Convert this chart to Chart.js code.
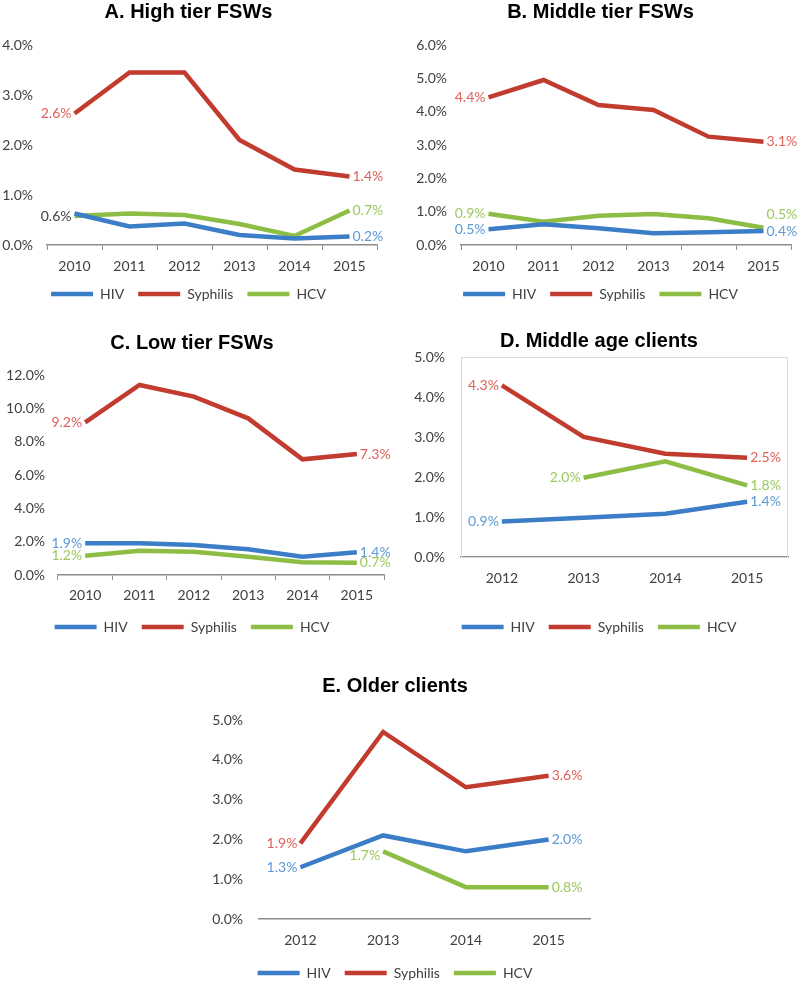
<!DOCTYPE html>
<html>
<head>
<meta charset="utf-8">
<script src="https://cdn.jsdelivr.net/npm/chart.js@4.4.1/dist/chart.umd.min.js"></script>
<style>
  html, body { margin: 0; padding: 0; background: #fff; overflow: hidden; }
  .panel { position: absolute; }
</style>
</head>
<body>
<div class="panel" style="left:0px;top:0px;width:394px;height:311px"><canvas id="chartA"></canvas></div>
<div class="panel" style="left:410px;top:0px;width:390px;height:311px"><canvas id="chartB"></canvas></div>
<div class="panel" style="left:0px;top:331px;width:394px;height:313px"><canvas id="chartC"></canvas></div>
<div class="panel" style="left:410px;top:329px;width:390px;height:315px"><canvas id="chartD"></canvas></div>
<div class="panel" style="left:200px;top:674px;width:412px;height:316px"><canvas id="chartE"></canvas></div>
<script>
// years
const yearsABC = ['2010', '2011', '2012', '2013', '2014', '2015'];
const yearsDE = ['2012', '2013', '2014', '2015'];

// A. High tier FSWs (%)
const hivA = [0.63, 0.37, 0.43, 0.2, 0.13, 0.17];
const syphA = [2.63, 3.45, 3.45, 2.1, 1.51, 1.37];
const hcvA = [0.58, 0.63, 0.6, 0.42, 0.18, 0.69];
const ticksA = [0, 1, 2, 3, 4];

// B. Middle tier FSWs
const hivB = [0.47, 0.62, 0.5, 0.35, 0.38, 0.42];
const syphB = [4.43, 4.95, 4.2, 4.05, 3.25, 3.1];
const hcvB = [0.94, 0.7, 0.88, 0.93, 0.8, 0.52];
const ticksB = [0, 1, 2, 3, 4, 5, 6];

// C. Low tier FSWs
const hivC = [1.9, 1.9, 1.8, 1.54, 1.1, 1.36];
const syphC = [9.16, 11.4, 10.7, 9.4, 6.94, 7.26];
const hcvC = [1.16, 1.46, 1.4, 1.1, 0.76, 0.74];
const ticksC = [0, 2, 4, 6, 8, 10, 12];

// D. Middle age clients
const hivD = [0.89, 0.98, 1.08, 1.38];
const syphD = [4.29, 3.0, 2.58, 2.48];
const hcvD = [null, 1.98, 2.39, 1.79];
const ticksD = [0, 1, 2, 3, 4, 5];

// E. Older clients
const hivE = [1.3, 2.1, 1.7, 2.0];
const syphE = [1.9, 4.7, 3.31, 3.6];
const hcvE = [null, 1.7, 0.8, 0.8];
const ticksE = [0, 1, 2, 3, 4, 5];

const BLUE = '#3b7dc6', RED = '#c23b2f', GREEN = '#8dbd45';
const BLUE_T = '#5e9ad6', RED_T = '#e0605a', GREEN_T = '#9cc95c';
const TXT = '#404040';

Chart.defaults.font.family = 'Lato';
Chart.defaults.color = TXT;

// write the value next to first and last point of each line
const endLabels = {
  id: 'endLabels',
  afterDatasetsDraw(chart) {
    const ctx = chart.ctx;
    ctx.save();
    ctx.font = '14px Lato';
    ctx.textBaseline = 'middle';
    chart.data.datasets.forEach((ds, i) => {
      const meta = chart.getDatasetMeta(i);
      let first = -1, last = -1;
      ds.data.forEach((v, j) => {
        if (v === null) return;
        if (first < 0) first = j;
        last = j;
      });
      if (ds.showFirst !== false) {
        const p = meta.data[first];
        ctx.fillStyle = ds.firstColor || ds.labelColor;
        ctx.textAlign = 'right';
        ctx.fillText(ds.data[first].toFixed(1) + '%', p.x - 3, p.y + (ds.firstDy || 0));
      }
      const q = meta.data[last];
      ctx.fillStyle = ds.labelColor;
      ctx.textAlign = 'left';
      ctx.fillText(ds.data[last].toFixed(1) + '%', q.x + 3, q.y + (ds.lastDy || 0));
    });
    ctx.restore();
  }
};

const boxBorder = {
  id: 'boxBorder',
  beforeDatasetsDraw(chart, args, opts) {
    if (!opts.show) return;
    const {ctx, chartArea: a} = chart;
    ctx.save();
    ctx.strokeStyle = '#d9d9d9';
    ctx.lineWidth = 1;
    ctx.strokeRect(a.left + 0.5, a.top + 0.5, a.width - 1, a.height);
    ctx.restore();
  }
};

function line(label, data, color, labelColor, extra) {
  return Object.assign({
    label: label,
    data: data,
    borderColor: color,
    backgroundColor: color,
    borderWidth: 4.5,
    pointRadius: 0,
    tension: 0,
    labelColor: labelColor
  }, extra || {});
}

function makeChart(id, title, labels, sets, ticks, g) {
  new Chart(document.getElementById(id), {
    type: 'line',
    data: { labels: labels, datasets: sets },
    options: {
      responsive: true,
      maintainAspectRatio: false,
      animation: false,
      layout: { padding: { left: 0, right: g.rightPad, top: 0, bottom: 0 } },
      plugins: {
        title: {
          display: true,
          text: title,
          color: '#000',
          font: { family: 'Liberation Sans', size: 20, weight: 'bold' },
          padding: { top: 0, bottom: g.titleGap - 1 }
        },
        legend: {
          position: 'bottom',
          labels: {
            usePointStyle: true,
            pointStyle: 'line',
            pointStyleWidth: 42,
            padding: 14,
            color: TXT,
            font: { size: 14 }
          }
        },
        tooltip: { enabled: false },
        boxBorder: { show: !!g.box }
      },
      scales: {
        x: {
          offset: true,
          grid: {
            display: g.xTicks,
            drawTicks: g.xTicks,
            drawOnChartArea: false,
            tickLength: 5,
            color: '#8c8c8c',
            offset: true
          },
          border: { display: true, color: '#8c8c8c', width: 1.5 },
          ticks: { padding: g.xPad, color: TXT, font: { size: 14, lineHeight: 1 } },
          afterFit: s => { s.height = g.xH; }
        },
        y: {
          min: ticks[0],
          max: ticks[ticks.length - 1],
          grid: { display: false, drawTicks: false },
          border: { display: false },
          ticks: {
            stepSize: ticks[1] - ticks[0],
            padding: g.yPad,
            color: TXT,
            font: { size: 14 },
            callback: v => v.toFixed(1) + '%'
          },
          afterFit: s => { s.width = g.yW; }
        }
      }
    },
    plugins: [endLabels, boxBorder]
  });
}

makeChart('chartA', 'A. High tier FSWs', yearsABC, [
  line('HIV', hivA, BLUE, BLUE_T, { showFirst: false }),
  line('Syphilis', syphA, RED, RED_T),
  line('HCV', hcvA, GREEN, GREEN_T, { firstColor: TXT })
], ticksA, { rightPad: 17, titleGap: 22, yW: 47, yPad: 14, xTicks: true, xPad: 9, xH: 28 });

makeChart('chartB', 'B. Middle tier FSWs', yearsABC, [
  line('HIV', hivB, BLUE, BLUE_T),
  line('Syphilis', syphB, RED, RED_T),
  line('HCV', hcvB, GREEN, GREEN_T, { lastDy: -13 })
], ticksB, { rightPad: 9, titleGap: 22, yW: 51, yPad: 14, xTicks: true, xPad: 9, xH: 28 });

makeChart('chartC', 'C. Low tier FSWs', yearsABC, [
  line('HIV', hivC, BLUE, BLUE_T),
  line('Syphilis', syphC, RED, RED_T),
  line('HCV', hcvC, GREEN, GREEN_T)
], ticksC, { rightPad: 10, titleGap: 21, yW: 58, yPad: 13, xTicks: true, xPad: 8, xH: 31 });

makeChart('chartD', 'D. Middle age clients', yearsDE, [
  line('HIV', hivD, BLUE, BLUE_T),
  line('Syphilis', syphD, RED, RED_T),
  line('HCV', hcvD, GREEN, GREEN_T)
], ticksD, { rightPad: 12, titleGap: 5, yW: 51, yPad: 16, xTicks: false, xPad: 14, xH: 49, box: true });

makeChart('chartE', 'E. Older clients', yearsDE, [
  line('HIV', hivE, BLUE, BLUE_T),
  line('Syphilis', syphE, RED, RED_T),
  line('HCV', hcvE, GREEN, GREEN_T, { firstDy: 4 })
], ticksE, { rightPad: 22, titleGap: 23, yW: 59, yPad: 16, xTicks: false, xPad: 14, xH: 33 });
</script>
</body>
</html>
